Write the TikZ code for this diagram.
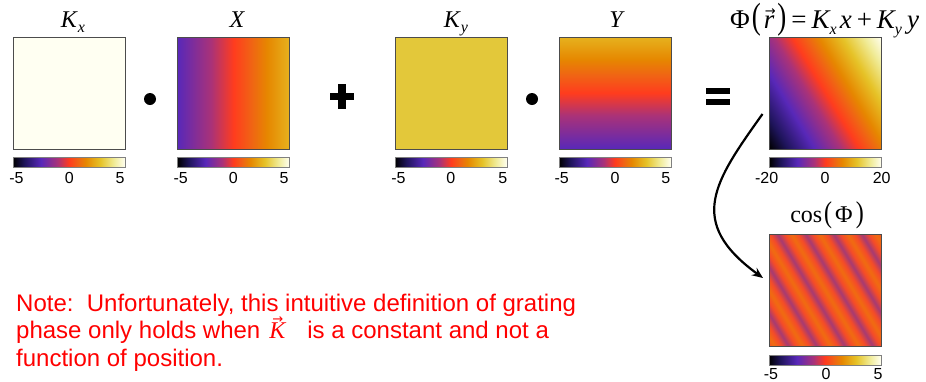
\documentclass[tikz,border=0pt]{standalone}
\usepackage{fontspec}
\setmainfont{Liberation Sans}
\newfontfamily\tms{Liberation Serif}
\newfontfamily\dvs{DejaVu Sans}
\usepackage{graphicx}
\usetikzlibrary{arrows.meta}

\definecolor{cmA}{RGB}{0,0,0}
\definecolor{cmB}{RGB}{30,20,90}
\definecolor{cmC}{RGB}{88,40,185}
\definecolor{cmD}{RGB}{170,50,120}
\definecolor{cmE}{RGB}{255,60,30}
\definecolor{cmF}{RGB}{240,100,20}
\definecolor{cmG}{RGB}{230,135,0}
\definecolor{cmH}{RGB}{230,195,40}
\definecolor{cmI}{RGB}{240,235,150}
\definecolor{cmJ}{RGB}{255,255,242}
\definecolor{cmXend}{RGB}{230,178,30}
\definecolor{kycol}{RGB}{227,200,58}
\definecolor{cP}{RGB}{165,58,115}
\definecolor{cR}{RGB}{245,75,40}
\definecolor{cO}{RGB}{240,108,16}

\pgfdeclarehorizontalshading{cmap}{100bp}{color(0bp)=(cmA); color(25bp)=(cmA); color(30bp)=(cmB); color(37.5bp)=(cmC); color(45bp)=(cmD); color(50bp)=(cmE); color(54bp)=(cmF); color(57.5bp)=(cmG); color(64bp)=(cmH); color(70bp)=(cmI); color(75bp)=(cmJ); color(100bp)=(cmJ)}
\pgfdeclarehorizontalshading{xsub}{100bp}{color(0bp)=(cmC); color(25bp)=(cmC); color(40bp)=(cmD); color(50bp)=(cmE); color(58bp)=(cmF); color(65bp)=(cmG); color(75bp)=(cmXend); color(100bp)=(cmXend)}
\pgfdeclareverticalshading{ysub}{100bp}{color(0bp)=(cmC); color(25bp)=(cmC); color(40bp)=(cmD); color(50bp)=(cmE); color(58bp)=(cmF); color(65bp)=(cmG); color(75bp)=(cmXend); color(100bp)=(cmXend)}
\pgfdeclarehorizontalshading{cosph}{100bp}{color(0bp)=(cR); color(24.474bp)=(cR);
 color(26.438bp)=(cO); color(28.401bp)=(cR); color(30.365bp)=(cP); color(32.328bp)=(cR);
 color(34.292bp)=(cO); color(36.255bp)=(cR); color(38.219bp)=(cP); color(40.182bp)=(cR);
 color(42.146bp)=(cO); color(44.109bp)=(cR); color(46.073bp)=(cP); color(48.036bp)=(cR);
 color(50bp)=(cO); color(51.964bp)=(cR); color(53.927bp)=(cP); color(55.891bp)=(cR);
 color(57.854bp)=(cO); color(59.818bp)=(cR); color(61.781bp)=(cP); color(63.745bp)=(cR);
 color(65.708bp)=(cO); color(67.672bp)=(cR); color(69.635bp)=(cP); color(71.599bp)=(cR);
 color(73.562bp)=(cO); color(75.526bp)=(cR); color(100bp)=(cR)}

\newcommand\sbs[2]{\raisebox{-#1}{\fontsize{16}{16}\selectfont\itshape #2}}
\newcommand\bp[2]{\scalebox{1}[#1]{\upshape #2}}
\newcommand\varrow[3]{\makebox[0pt][l]{\kern#1\raisebox{#2}{\dvs\upshape\fontsize{#3}{#3}\selectfont →}}}

\tikzset{
 panel/.style={draw=black!70, line width=0.9pt, minimum width=112pt, minimum height=112pt, inner sep=0pt, outer sep=0pt},
 cbar/.style={draw=black!50, line width=0.7pt, minimum width=112pt, minimum height=10pt, inner sep=0pt, outer sep=0pt, shading=cmap},
 tck/.style={font=\fontsize{16}{16}\selectfont, anchor=base, inner sep=0pt},
 ttl/.style={font=\tms\fontsize{24}{24}\selectfont, anchor=base, inner sep=0pt},
 ttlb/.style={font=\tms\fontsize{27}{27}\selectfont, anchor=base west, inner sep=0pt},
 notetxt/.style={font=\fontsize{24}{24}\selectfont, text=red, anchor=base west, inner sep=0pt},
 dotn/.style={circle, fill=black, minimum size=12pt, inner sep=0pt},
 rotshade/.style={path picture={\shade[shading=#1, shading angle=31]
   ([shift={(-76.85,-76.85)}]path picture bounding box.center) rectangle
   ([shift={(76.85,76.85)}]path picture bounding box.center);}},
}

\begin{document}
\begin{tikzpicture}[x=1pt,y=-1pt]
\useasboundingbox[fill=white] (0,0) rectangle (926,381);

% panels
\node[panel, fill=cmJ] (KX) at (69,93) {};
\node[panel, shading=xsub] (X) at (233.5,93) {};
\node[panel, fill=kycol] (KY) at (451,93) {};
\node[panel, shading=ysub] (Y) at (615,93) {};
\node[panel, rotshade=cmap] (PHI) at (825.5,93) {};
\node[panel, rotshade=cosph] (COS) at (825,290) {};

% colorbars
\node[cbar] (cb1) at (69,162) {};
\node[cbar] (cb2) at (233.5,162) {};
\node[cbar] (cb3) at (451,162) {};
\node[cbar] (cb4) at (615,162) {};
\node[cbar] (cb5) at (825.5,162) {};
\node[cbar] (cb6) at (825,360) {};

% colorbar labels
\node[tck] (l1a) at (16.5,183) {-5};
\node[tck] (l1b) at (69.3,183) {0};
\node[tck] (l1c) at (120,183) {5};
\node[tck] (l2a) at (180.7,183) {-5};
\node[tck] (l2b) at (233.3,183) {0};
\node[tck] (l2c) at (284,183) {5};
\node[tck] (l3a) at (398.5,183) {-5};
\node[tck] (l3b) at (450.7,183) {0};
\node[tck] (l3c) at (502.7,183) {5};
\node[tck] (l4a) at (561.7,183) {-5};
\node[tck] (l4b) at (615,183) {0};
\node[tck] (l4c) at (665.7,183) {5};
\node[tck] (l5a) at (766.7,183) {-20};
\node[tck] (l5b) at (825,183) {0};
\node[tck] (l5c) at (881.7,183) {20};
\node[tck] (l6a) at (771,379) {-5};
\node[tck] (l6b) at (826,379) {0};
\node[tck] (l6c) at (878,379) {5};

% titles
\node[ttl] (tKX) at (73,27) {\itshape K\kern1pt\sbs{5pt}{x}};
\node[ttl] (tX) at (237,27) {\itshape X};
\node[ttl] (tKY) at (456,27) {\itshape K\kern1pt\sbs{5pt}{y}};
\node[ttl] (tY) at (616,27) {\itshape Y};
\node[ttlb] (tPHI) at (730,28) {Φ\kern2pt\bp{1.35}{(}\kern3pt\varrow{1pt}{13pt}{13}{\itshape r}\kern3pt\bp{1.35}{)}\kern5pt=\kern5pt{\itshape K\sbs{6pt}{x}\kern3pt x\kern5pt\upshape+\kern5pt\itshape K\sbs{6pt}{y}\kern5pt y}};
\node[ttl] (tCOS) at (827,222) {cos\kern2pt\bp{1.25}{(}\kern3pt Φ\kern3pt\bp{1.25}{)}};

% operators
\node[dotn] (d1) at (150,99) {};
\node[dotn] (d2) at (532,99) {};
\fill (330,93.3) rectangle (354,100);
\fill (338.3,84.3) rectangle (345.7,109);
\fill (705.7,88.3) rectangle (730,94.3);
\fill (705.7,99) rectangle (730,105);

% arrow
\draw[-{Stealth[length=11pt,width=9pt]}, line width=2.2pt]
 ([shift={(-7,21)}]PHI.west) .. controls (714,182) and (686,222) .. ([shift={(-6,-12)}]COS.west);

% note
\node[notetxt] (n1) at (16,311) {Note:\ \ Unfortunately, this intuitive definition of grating};
\node[notetxt] (n2) at (16,338.5) {phase only holds when\hspace{9pt}{\tms\itshape\varrow{3pt}{15pt}{13}K}\hspace{22pt}is a constant and not a};
\node[notetxt] (n3) at (16,366) {function of position.};
\end{tikzpicture}
\end{document}
